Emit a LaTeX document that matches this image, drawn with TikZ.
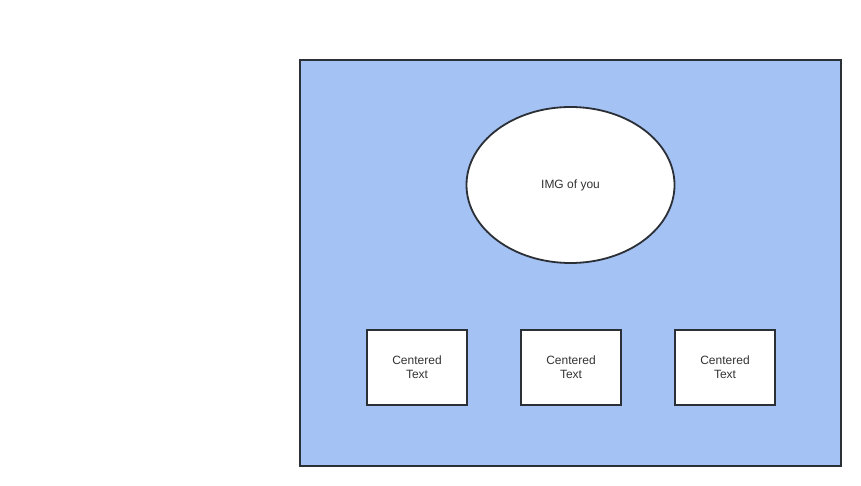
\documentclass[tikz,border=0pt]{standalone}
\usepackage{fontspec}
\setmainfont{Liberation Sans}
\usetikzlibrary{shapes.geometric}
\definecolor{panelblue}{HTML}{A4C2F4}
\definecolor{edge}{HTML}{2B2F36}
\definecolor{label}{HTML}{333333}
\begin{document}
\begin{tikzpicture}[x=1pt,y=-1pt,
  outline/.style={draw=edge,line width=1.8pt},
  card/.style={outline,fill=white,minimum width=100pt,minimum height=75pt,
    inner sep=0pt,align=center,text=label,font=\fontsize{12}{14}\selectfont}]
\useasboundingbox (0,0) rectangle (861,486);
\node[outline,fill=panelblue,minimum width=541pt,minimum height=406pt,inner sep=0pt] (panel) at (570.5,263) {};
\node[card,ellipse,minimum width=208pt,minimum height=156pt] (img) at (570.5,185) {IMG of you};
\node[card] (t1) at (417,367.5) {Centered\\Text};
\node[card] (t2) at (571,367.5) {Centered\\Text};
\node[card] (t3) at (725,367.5) {Centered\\Text};
\end{tikzpicture}
\end{document}
